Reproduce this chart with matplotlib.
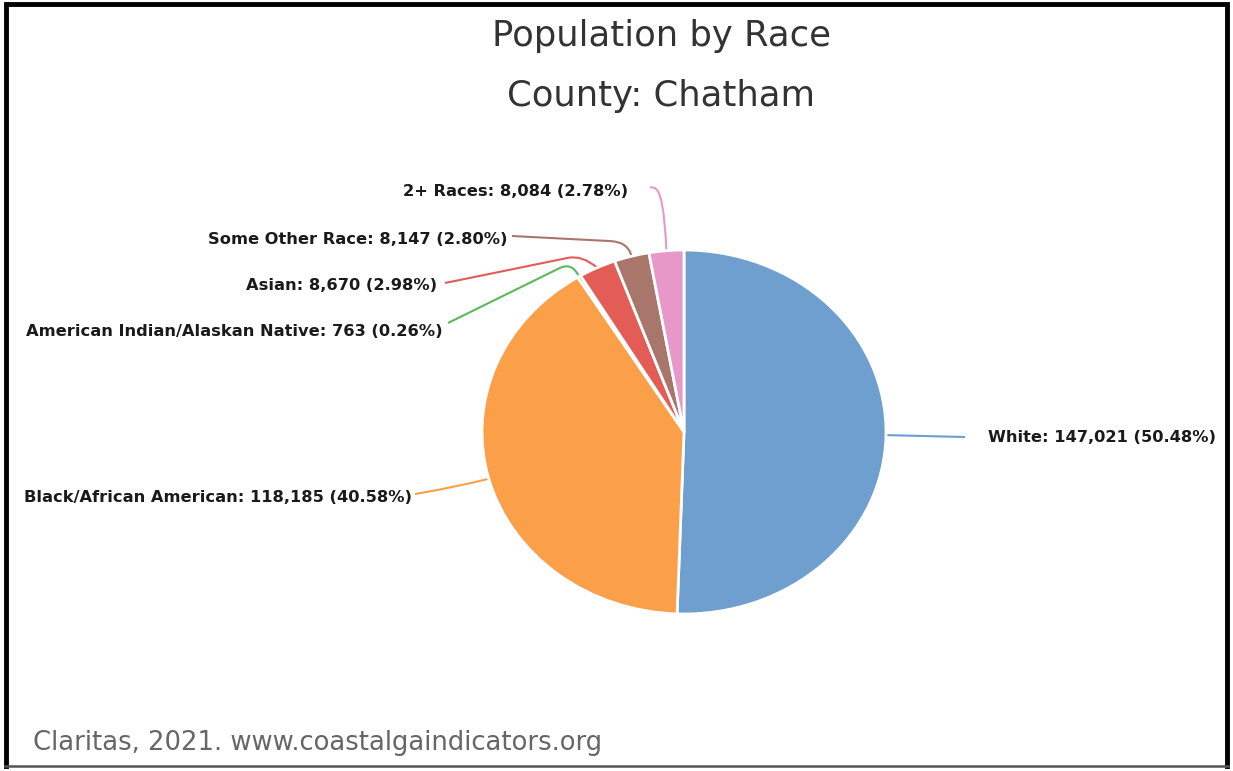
import matplotlib
matplotlib.use("Agg")
import matplotlib.pyplot as plt
import numpy as np
from matplotlib.patches import PathPatch
from matplotlib.path import Path

# data
races = ["White", "Black/African American", "American Indian/Alaskan Native",
         "Asian", "Some Other Race", "2+ Races"]
counts = [147021, 118185, 763, 8670, 8147, 8084]
percents = [50.48, 40.58, 0.26, 2.98, 2.80, 2.78]
colors = ["#6f9fcf", "#fc9f49", "#5cb85c", "#e35d56", "#a8766b", "#e898c8"]

W, H = 1233, 771
fig = plt.figure(figsize=(W / 100, H / 100), dpi=100)

# overlay in pixel coords (top-left origin) for labels and leader lines
ov = fig.add_axes([0, 0, 1, 1])
ov.set_xlim(0, W)
ov.set_ylim(H, 0)
ov.axis("off")

# frame around the picture (bottom edge thinner and grey)
ov.plot([6, 6, W - 6, W - 6], [H - 5, 4, 4, H - 5], color="black", lw=3.5,
        solid_joinstyle="miter")
ov.plot([5, W - 5], [H - 5, H - 5], color="#555555", lw=1.8)

# pie axes (slightly wider than tall, like the original)
cx, cy, rx, ry = 684, 432, 202, 182
ax = fig.add_axes([(cx - rx) / W, (H - cy - ry) / H, 2 * rx / W, 2 * ry / H])
wedges, _ = ax.pie(counts, colors=colors, startangle=90, counterclock=False,
                   radius=1, wedgeprops=dict(edgecolor="white", linewidth=2))
ax.set_xlim(-1, 1)
ax.set_ylim(-1, 1)
ax.set_aspect("auto")
ax.axis("off")

# label layout: text anchor, alignment, leader start, bend control, straight fraction
layout = [
    ((988, 438), "left", (965, 437), None, 0),
    ((412, 497), "right", (415, 494), (455, 487), 0.3),
    ((443, 331), "right", (448, 323), (572, 262), 0.9),
    ((437, 285), "right", (445, 283), (582, 255), 0.9),
    ((507, 239), "right", (512, 236), (628, 242), 0.85),
    ((628, 191), "right", (650, 187), (664, 190), 0.3),
]

total = sum(counts)
cum = 0
for name, n, p, col, (pos, ha, start, ctrl, frac) in zip(races, counts, percents,
                                                        colors, layout):
    mid = np.radians(90 - 360 * (cum + n / 2) / total)
    cum += n
    end = (cx + rx * np.cos(mid), cy - ry * np.sin(mid))
    if ctrl is None:
        verts = [start, end]
        codes = [Path.MOVETO, Path.LINETO]
    else:
        a = (start[0] + frac * (ctrl[0] - start[0]), start[1] + frac * (ctrl[1] - start[1]))
        verts = [start, a, ctrl, end]
        codes = [Path.MOVETO, Path.LINETO, Path.CURVE3, Path.CURVE3]
    ov.add_patch(PathPatch(Path(verts, codes), fill=False, edgecolor=col, lw=1.5))
    ov.text(pos[0], pos[1], f"{name}: {n:,} ({p:.2f}%)", ha=ha, va="center",
            fontsize=11.7, fontweight="bold", color="#1a1a1a", family="DejaVu Sans")

ov.text(661, 36, "Population by Race", ha="center", va="center",
        fontsize=25.5, color="#333333", family="DejaVu Sans")
ov.text(661, 96, "County: Chatham", ha="center", va="center",
        fontsize=25.5, color="#333333", family="DejaVu Sans")
ov.text(33, 743, "Claritas, 2021. www.coastalgaindicators.org",
        ha="left", va="center", fontsize=18.6, color="#666666", family="DejaVu Sans")

fig.savefig("out.png", dpi=100)
